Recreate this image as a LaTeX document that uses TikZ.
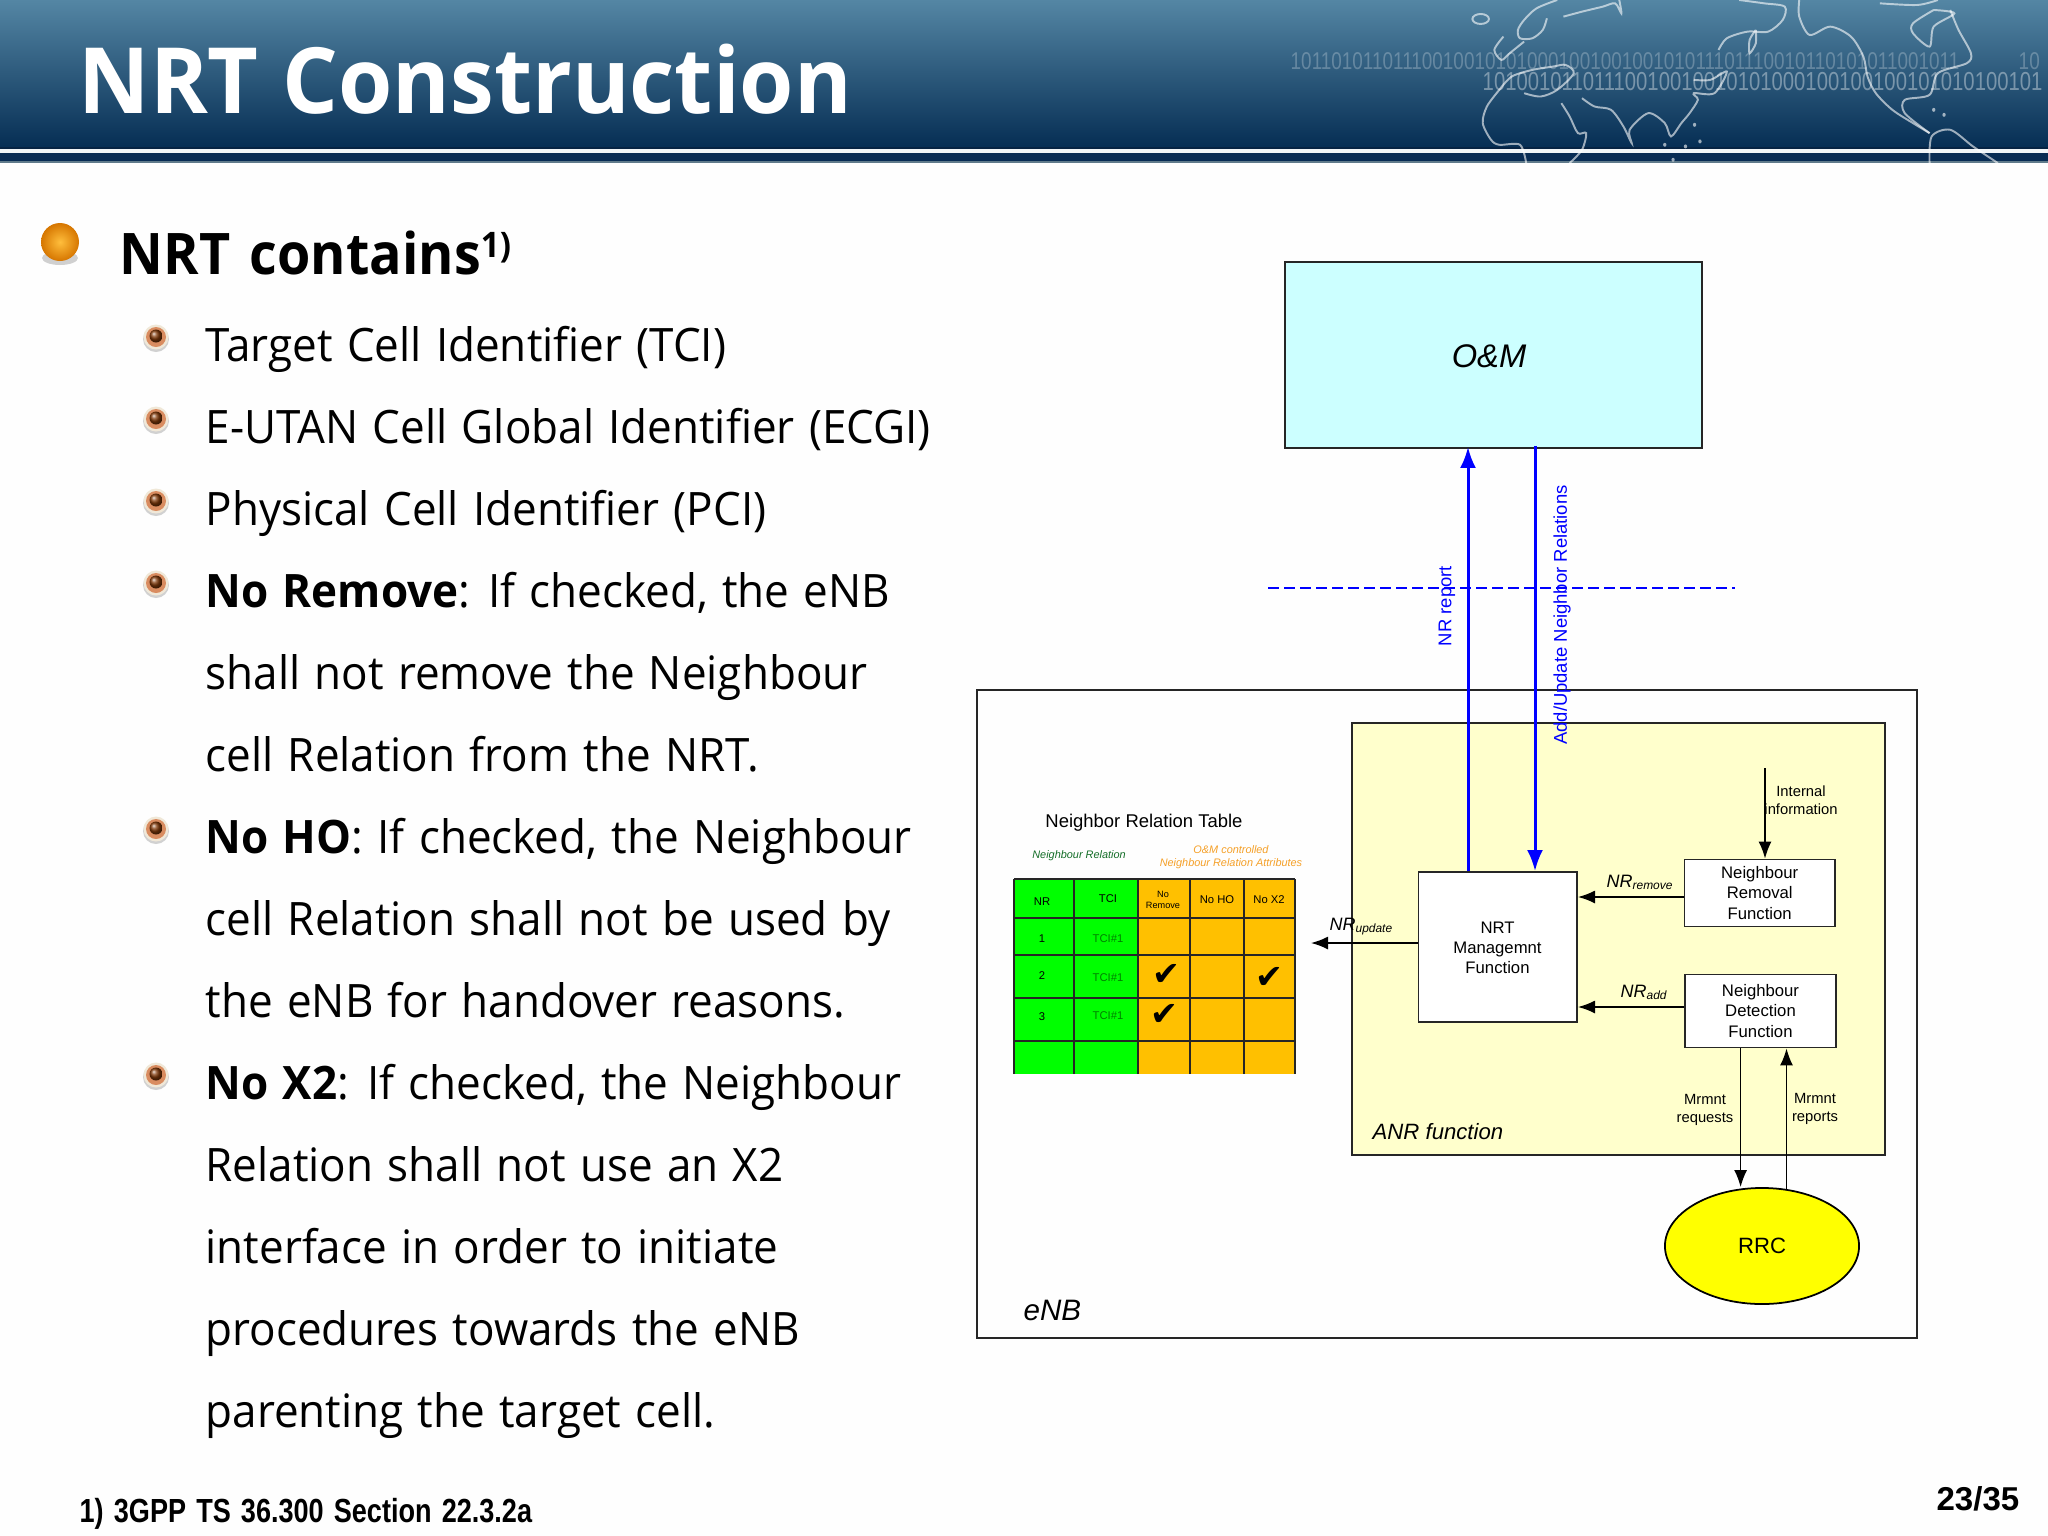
\documentclass[tikz,border=0pt]{standalone}
\usepackage{fontspec}
\usepackage{tikz}
\usetikzlibrary{shapes.geometric,arrows.meta}
\setmainfont[WordSpace=1.25,FakeStretch=0.955]{Open Sans}
\setsansfont{Liberation Sans}
\newfontfamily\titlefont[FakeStretch=0.96,WordSpace=1.05]{Open Sans}
\newfontfamily\headfont[FakeStretch=0.94,WordSpace=1.4]{Open Sans}
\newfontfamily\narrowfont[FakeStretch=0.78]{Liberation Sans}
\newfontfamily\footfont[FakeStretch=0.81,WordSpace=1.35]{Liberation Sans}
\newfontfamily\checkfont{DejaVu Sans}
\definecolor{pageWhite}{RGB}{254,254,254}
\definecolor{bandTop}{RGB}{84,134,164}
\definecolor{bandBottom}{RGB}{6,46,84}
\definecolor{bandDark}{RGB}{8,44,84}
\definecolor{ballLight}{RGB}{255,190,60}
\definecolor{ballDark}{RGB}{214,118,0}
\definecolor{ringBeige}{RGB}{240,232,216}
\definecolor{ringCopper}{RGB}{217,140,96}
\definecolor{coreBrown}{RGB}{130,58,10}
\definecolor{omCyan}{RGB}{204,255,255}
\definecolor{anrYellow}{RGB}{255,255,204}
\definecolor{rrcYellow}{RGB}{255,255,0}
\definecolor{nrGreen}{RGB}{0,255,0}
\definecolor{attrOrange}{RGB}{255,192,0}
\definecolor{lineBlue}{RGB}{0,0,255}
\definecolor{greenText}{RGB}{20,110,40}
\definecolor{orangeText}{RGB}{245,160,40}
\newcommand{\nrsub}[1]{\raisebox{-0.7pt}{\fontsize{3.4}{4}\selectfont #1}}
\tikzset{
  bodyline/.style={anchor=base west, inner sep=0, font=\fontsize{13.1}{15}\selectfont},
  boxnode/.style={draw=black!85, line width=0.5pt, inner sep=0, align=center, font=\sffamily\fontsize{4.75}{5.7}\selectfont},
  blackarrow/.style={line width=0.45pt, -{Latex[length=0.17cm,width=0.13cm]}},
  bluearrow/.style={lineBlue, line width=0.85pt, -{Latex[length=0.21cm,width=0.16cm]}},
  smalllabel/.style={inner sep=0, align=center, font=\sffamily\fontsize{4.2}{5.1}\selectfont},
  nrlabel/.style={anchor=base west, inner sep=0, font=\sffamily\itshape\fontsize{5.1}{6}\selectfont},
  bluelabel/.style={inner sep=0, rotate=90, text=lineBlue, font=\sffamily\fontsize{5.25}{6}\selectfont},
  celltext/.style={inner sep=0, align=center, font=\sffamily\fontsize{3.2}{3.9}\selectfont},
  checkmark/.style={inner sep=0, font=\checkfont\fontsize{9.5}{10}\selectfont}
}
\begin{document}
\begin{tikzpicture}[x=0.01cm,y=-0.01cm]
\useasboundingbox (0,0) rectangle (2048,1536);
\fill[pageWhite] (0,0) rectangle (2048,1536);

\shade[top color=bandTop, bottom color=bandBottom] (0,0) rectangle (2048,147);
\fill[bandDark!80!black] (0,147) rectangle (2048,149);
\fill[white!92!bandTop] (0,149) rectangle (2048,153);
\fill[bandDark] (0,153) rectangle (2048,161);
\fill[black!10!bandTop!60!gray] (0,161) rectangle (2048,163);

\begin{scope}
\clip (0,0) rectangle (2048,163);
\node[anchor=west, inner sep=0, text=white, opacity=0.25, font=\narrowfont\fontsize{6.9}{8}\selectfont] (digitsa) at (1290,61)
  {10110101101110010010101000100100100101011101110010110101011001011};
\node[anchor=west, inner sep=0, text=white, opacity=0.25, font=\narrowfont\fontsize{6.9}{8}\selectfont] (digitsc) at (2018,61) {10};
\node[anchor=west, inner sep=0, text=white, opacity=0.38, font=\narrowfont\fontsize{7.4}{9}\selectfont] (digitsb) at (1482,82)
  {10100101101110010010010101000100100100101010100101};
\begin{scope}[shift={(1400,0)},x=0.00413cm,y=-0.00333cm,white,opacity=0.6,line width=0.55pt]
\draw (195,57) ellipse [x radius=20, y radius=15];
\draw plot[smooth] coordinates {(380,0) (330,25) (300,60) (285,90) (290,115) (320,115) (345,90) (355,55)};
\draw plot[smooth] coordinates {(395,50) (440,35) (490,20) (520,10) (535,40) (530,0)};
\draw plot[smooth] coordinates {(250,110) (228,150) (245,180) (265,160) (300,125)};
\draw plot[smooth] coordinates {(240,270) (210,320) (200,370) (220,420) (240,435) (290,435) (305,490)};
\draw plot[smooth] coordinates {(240,270) (270,230) (320,210) (370,200) (400,195) (420,220) (380,270) (340,290) (300,280)};
\draw plot[smooth] coordinates {(390,310) (410,350) (430,400) (450,400) (440,450) (410,490)};
\draw plot[smooth] coordinates {(440,295) (470,320) (510,330) (540,380) (560,430) (555,390) (600,340) (640,370) (655,410) (680,370) (700,340) (720,300) (710,280) (760,280) (790,215) (750,240) (710,240)};
\draw plot[smooth] coordinates {(770,150) (790,115) (840,95) (890,95) (925,60) (930,20) (880,10) (820,0)};
\draw plot[smooth] coordinates {(860,90) (845,120) (845,160) (860,130) (860,90)};
\draw plot[smooth] coordinates {(965,0) (965,50) (990,105) (1040,80) (1090,110) (1120,170) (1130,230) (1150,280) (1190,330) (1240,370) (1280,400)};
\draw plot[smooth] coordinates {(1280,400) (1220,340) (1220,300) (1280,285) (1300,220) (1370,190) (1380,160) (1350,90) (1330,30)};
\draw plot[smooth] coordinates {(1290,30) (1240,70) (1240,100) (1280,140) (1290,80) (1340,40) (1290,30)};
\draw plot[smooth] coordinates {(1280,490) (1285,410) (1330,390) (1385,440) (1445,490)};
\draw plot[smooth] coordinates {(1160,10) (1250,15) (1300,0)};
\foreach \ix/\iy in {1290/330,1315/345,712/375,725/425,640/435,690/440,660/480}
  \fill (\ix,\iy) ellipse [x radius=4, y radius=6];
\end{scope}
\end{scope}

\node[anchor=base west, inner sep=0, text=white, font=\titlefont\bfseries\fontsize{26}{30}\selectfont] (slidetitle) at (78,113) {NRT Construction};

\fill[black, opacity=0.18] (60,258) ellipse [x radius=18, y radius=7];
\shade[inner color=ballLight, outer color=ballDark] (60,242) circle [radius=19];
\node[anchor=base west, inner sep=0, font=\headfont\bfseries\fontsize{16.3}{18}\selectfont] (heading) at (119,274)
  {NRT contains\raisebox{4.8pt}{\fontsize{10}{12}\selectfont 1)}};

\foreach \by in {337,419,501,583,829,1075}{
  \fill[black!35!white, opacity=0.5] (156,\by+2) circle [radius=13];
  \fill[ringBeige] (156,\by) circle [radius=12.5];
  \fill[ringCopper] (156,\by) circle [radius=10];
  \shade[ball color=coreBrown] (156,\by-1) circle [radius=6.5];
}

\foreach \ly/\lt in {
  361/{Target Cell Identifier (TCI)},
  443/{E-UTAN Cell Global Identifier (ECGI)},
  525/{Physical Cell Identifier (PCI)},
  607/{\textbf{No Remove}: If checked, the eNB},
  689/{shall not remove the Neighbour},
  771/{cell Relation from the NRT.},
  853/{\textbf{No HO}: If checked, the Neighbour},
  935/{cell Relation shall not be used by},
  1017/{the eNB for handover reasons.},
  1099/{\textbf{No X2}: If checked, the Neighbour},
  1181/{Relation shall not use an X2},
  1263/{interface in order to initiate},
  1345/{procedures towards the eNB},
  1427/{parenting the target cell.}}
  \node[bodyline] (line\ly) at (205,\ly) {\lt};

\node[anchor=base west, inner sep=0, font=\footfont\bfseries\fontsize{9.5}{11}\selectfont] (footref) at (79,1522) {1) 3GPP TS 36.300 Section 22.3.2a};
\node[anchor=base east, inner sep=0, font=\sffamily\bfseries\fontsize{9.4}{11}\selectfont] (pagenum) at (2020,1510) {23/35};

\node[boxnode, fill=omCyan, minimum width=4.17cm, minimum height=1.86cm] (om) at (1493.5,355) {};
\node[inner sep=0, font=\sffamily\itshape\fontsize{9.3}{11}\selectfont] (omlabel) at (1489,356) {O\&M};
\coordinate (dashleft) at (1268,588);
\coordinate (dashright) at (1735,588);
\draw[lineBlue, line width=0.37pt, dash pattern=on 0.11cm off 0.05cm] (dashleft) -- (dashright);

\node[boxnode, minimum width=9.4cm, minimum height=6.48cm] (enb) at (1447,1014) {};
\node[anchor=base west, inner sep=0, font=\sffamily\itshape\fontsize{8.4}{10}\selectfont] (enblabel) at (1023,1320) {eNB};
\node[boxnode, fill=anrYellow, minimum width=5.33cm, minimum height=4.32cm] (anr) at (1618.5,939) {};
\node[anchor=base west, inner sep=0, font=\sffamily\itshape\fontsize{6.3}{8}\selectfont] (anrlabel) at (1372,1139) {ANR function};

\node[boxnode, fill=white, minimum width=1.585cm, minimum height=1.5cm] (nrt) at (1497.8,947) {};
\node[boxnode, draw=none] (nrtlabel) at (1497.5,947.5) {NRT\\Managemnt\\Function};
\node[boxnode, fill=white, minimum width=1.505cm, minimum height=0.67cm] (removal) at (1759.7,893) {Neighbour\\Removal\\Function};
\node[boxnode, fill=white, minimum width=1.505cm, minimum height=0.73cm] (detect) at (1760.5,1011) {Neighbour\\Detection\\Function};
\node[ellipse, draw=black, fill=rrcYellow, line width=0.5pt, inner sep=0, minimum width=1.94cm, minimum height=1.16cm, font=\sffamily\fontsize{6.3}{8}\selectfont] (rrc) at (1762,1246) {RRC};

\coordinate (upline) at (1468,0);
\coordinate (downline) at (1535,0);
\draw[bluearrow] (nrt.north -| upline) -- ([yshift=0.02cm]om.south -| upline);
\draw[bluearrow] ([yshift=0.03cm]om.south -| downline) -- (nrt.north -| downline);
\node[bluelabel] (nrreport) at (1447,606) {NR report};
\node[bluelabel] (addupdate) at (1562,615) {Add/Update Neighbor Relations};

\coordinate (updatetip) at (1311,943);
\coordinate (removeline) at (0,897);
\coordinate (addline) at (0,1007);
\coordinate (intstart) at (1765,768);
\coordinate (reqline) at (1740.6,0);
\coordinate (repline) at (1786.5,0);
\draw[blackarrow] (nrt.west |- updatetip) -- (updatetip);
\draw[blackarrow] (removal.west |- removeline) -- (nrt.east |- removeline);
\draw[blackarrow] (detect.west |- addline) -- (nrt.east |- addline);
\draw[blackarrow] (intstart) -- (removal.north -| intstart);
\draw[blackarrow] (detect.south -| reqline) -- (rrc.north -| reqline);
\draw[blackarrow] (1786.5,1190) -- (detect.south -| repline);

\node[nrlabel] (nrupdate) at (1329,930) {NR\nrsub{update}};
\node[nrlabel] (nrremove) at (1606,887) {NR\nrsub{remove}};
\node[nrlabel] (nradd) at (1620,997) {NR\nrsub{add}};
\node[smalllabel] (intlabel) at (1801,800) {Internal\\information};
\node[smalllabel] (reqlabel) at (1705,1110) {Mrmnt\\requests};
\node[smalllabel] (replabel) at (1815,1109) {Mrmnt\\reports};

\fill[nrGreen] (1014,879) rectangle (1138,1074);
\fill[attrOrange] (1138,879) rectangle (1295,1074);
\foreach \cx in {1014,1074,1138,1190,1244,1295}
  \draw[black!85, line width=0.5pt] (\cx,879) -- (\cx,1074);
\foreach \cy in {879,918,955,998,1041}
  \draw[black!85, line width=0.5pt] (1014,\cy) -- (1295,\cy);

\node[inner sep=0, font=\sffamily\fontsize{5.25}{6}\selectfont] (tabletitle) at (1144,823) {Neighbor Relation Table};
\node[inner sep=0, text=greenText, font=\sffamily\itshape\fontsize{3.1}{3.8}\selectfont] (nrhead) at (1079,856) {Neighbour Relation};
\node[inner sep=0, align=center, text=orangeText, font=\sffamily\itshape\fontsize{3.1}{3.7}\selectfont] (attrhead) at (1231,857) {O\&M controlled\\Neighbour Relation Attributes};

\node[celltext] (headnr) at (1042,902) {NR};
\node[celltext] (headtci) at (1108,899) {TCI};
\node[celltext, font=\sffamily\fontsize{2.6}{3.2}\selectfont] (headrem) at (1163,900) {No\\Remove};
\node[celltext] (headho) at (1217,900) {No HO};
\node[celltext] (headxtwo) at (1269,900) {No X2};
\foreach \rn/\ry/\ty in {1/939/939,2/976/978,3/1017/1016}{
  \node[celltext] (nr\rn) at (1042,\ry) {\rn};
  \node[celltext, text=green!50!black] (tci\rn) at (1108,\ty) {TCI\#1};
}
\node[checkmark] (checka) at (1166,975) {✔};
\node[checkmark] (checkb) at (1269,978) {✔};
\node[checkmark] (checkc) at (1164,1015) {✔};
\end{tikzpicture}
\end{document}
